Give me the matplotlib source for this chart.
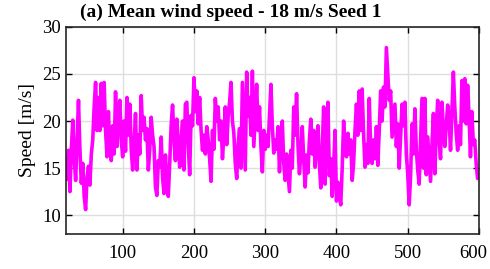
import numpy as np
import matplotlib.pyplot as plt
import matplotlib.transforms as mtransforms

# wind speed samples [m/s], one every 2 s starting at t = 20 s
speed = [
    16.2, 13.8, 16.9, 12.5, 17.0, 20.1, 16.0, 13.7, 18.0, 22.2,
    17.0, 13.4, 15.5, 12.0, 10.6, 14.0, 15.2, 13.2, 16.5, 18.0,
    21.5, 24.1, 19.0, 22.5, 19.0, 24.0, 19.5, 24.1, 19.0, 16.2,
    21.0, 17.0, 15.8, 19.5, 16.5, 23.1, 17.3, 20.5, 22.2, 18.0,
    16.2, 20.0, 16.8, 22.5, 18.5, 21.8, 17.0, 14.8, 17.5, 20.8,
    14.8, 18.5, 16.5, 22.7, 19.0, 20.4, 18.0, 19.2, 14.8, 17.0,
    20.4, 18.5, 17.3, 13.0, 12.1, 15.8, 15.1, 18.3, 14.0, 12.3,
    16.4, 13.5, 12.0, 15.5, 19.5, 21.7, 18.0, 15.8, 20.2, 17.5,
    15.1, 18.0, 20.0, 14.8, 21.8, 22.0, 17.5, 14.3, 20.6, 19.5,
    24.6, 21.0, 23.2, 19.7, 22.5, 19.0, 16.9, 18.5, 16.5, 19.4,
    18.0, 16.0, 13.6, 19.0, 17.0, 22.4, 20.0, 21.5, 18.0, 20.0,
    16.0, 18.5, 21.5, 17.5, 20.5, 22.0, 24.1, 20.0, 18.7, 15.5,
    13.9, 17.5, 19.2, 15.0, 24.1, 19.5, 14.8, 25.2, 20.5, 22.5,
    18.5, 25.3, 17.3, 20.5, 23.9, 19.0, 21.5, 17.3, 14.6, 19.0,
    17.0, 18.5, 17.3, 20.5, 23.9, 19.5, 16.6, 18.0, 17.0, 19.4,
    14.6, 18.0, 20.0, 15.5, 13.7, 16.5, 14.5, 12.5, 16.9, 15.0,
    21.5, 18.5, 22.9, 17.5, 14.4, 16.5, 19.4, 16.0, 13.0, 16.4,
    14.5, 18.0, 20.2, 16.5, 19.0, 15.1, 17.5, 19.5, 15.5, 12.9,
    17.0, 21.5, 13.3, 19.0, 22.0, 14.2, 16.0, 12.0, 15.0, 19.0,
    11.5, 13.5, 12.0, 11.1, 15.0, 20.0, 17.0, 16.2, 18.7, 16.5,
    18.0, 13.7, 15.5, 19.0, 21.8, 18.5, 23.2, 19.0, 23.4, 18.7,
    15.1, 17.5, 15.5, 22.4, 17.0, 15.5, 18.0, 16.0, 19.4, 15.3,
    19.0, 23.2, 20.0, 23.6, 21.5, 27.8, 25.0, 22.2, 23.2, 18.3,
    20.0, 21.8, 17.3, 19.7, 15.0, 18.5, 21.8, 19.5, 22.0, 16.5,
    14.4, 11.1, 14.2, 19.7, 16.5, 21.3, 17.0, 14.8, 13.3, 18.0,
    22.4, 15.0, 22.4, 14.3, 18.3, 16.0, 13.6, 17.5, 20.8, 14.4,
    19.0, 22.2, 18.0, 16.0, 22.0, 19.0, 17.3, 19.5, 21.7, 20.4,
    16.9, 21.0, 25.2, 21.5, 18.7, 16.9, 19.5, 17.5, 24.3, 20.0,
    24.5, 19.7, 23.8, 20.5, 16.2, 21.0, 17.5, 18.0, 15.5, 13.9,
    14.5,
]
t_start = 20
dt = 2
time = t_start + dt * np.arange(len(speed))

xticks = [100, 200, 300, 400, 500, 600]
yticks = [10, 15, 20, 25, 30]

plt.rcParams.update({
    'font.family': 'serif',
    'font.serif': ['Liberation Serif', 'DejaVu Serif'],
    'font.size': 14,
})

fig = plt.figure(figsize=(4.9, 2.69), dpi=100)
ax = fig.add_axes([0.134, 0.130, 0.8436, 0.770])

ax.plot(time, speed, color='#FF00FF', linewidth=2.6)

ax.set_xlim(20, 600)
ax.set_ylim(8, 30)
ax.set_xticks(xticks)
ax.set_yticks(yticks)
ax.grid(True, color='#DEDEDE', linewidth=1.0)
ax.set_axisbelow(True)
ax.tick_params(direction='in', length=4, width=1, top=True, right=True,
               labelsize=13.5, colors='black')
ax.tick_params(axis='x', pad=8)
for s in ax.spines.values():
    s.set_linewidth(1.2)
    s.set_color('#262626')

# keep the last x label inside the figure, as in the original
last = ax.get_xticklabels()[-1]
last.set_transform(last.get_transform() +
                   mtransforms.ScaledTranslation(-6 / 100, 0, fig.dpi_scale_trans))

ax.set_ylabel('Speed [m/s]', fontsize=14, labelpad=4)
ax.text(0.035, 1.048, '(a) Mean wind speed - 18 m/s Seed 1', transform=ax.transAxes,
        ha='left', va='baseline', fontsize=14, fontweight='bold')

fig.savefig('out.png', dpi=100)
